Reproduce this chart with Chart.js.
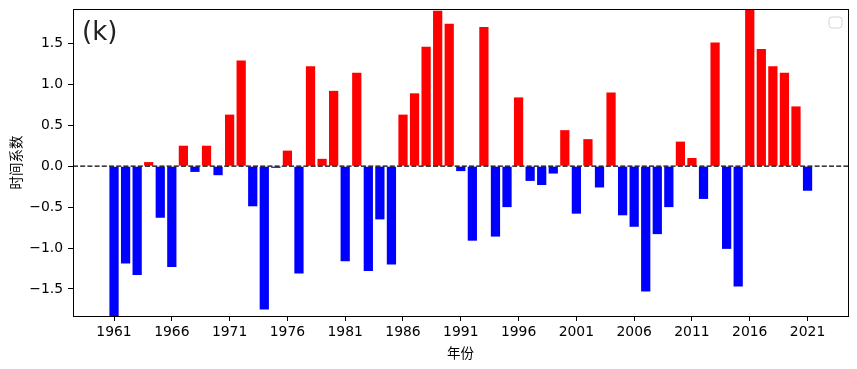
<!DOCTYPE html>
<html>
<head>
<meta charset="utf-8">
<script src="https://cdn.jsdelivr.net/npm/chart.js@4"></script>
<style>
  html, body { margin: 0; padding: 0; background: #fff; }
</style>
</head>
<body>
<canvas id="myBarChart" width="857" height="369"></canvas>
<script>
// data
const years = [
  1961, 1962, 1963, 1964, 1965, 1966, 1967, 1968, 1969, 1970,
  1971, 1972, 1973, 1974, 1975, 1976, 1977, 1978, 1979, 1980,
  1981, 1982, 1983, 1984, 1985, 1986, 1987, 1988, 1989, 1990,
  1991, 1992, 1993, 1994, 1995, 1996, 1997, 1998, 1999, 2000,
  2001, 2002, 2003, 2004, 2005, 2006, 2007, 2008, 2009, 2010,
  2011, 2012, 2013, 2014, 2015, 2016, 2017, 2018, 2019, 2020,
  2021
];
const values = [
  -1.95, -1.19, -1.33, 0.05, -0.63, -1.23, 0.25, -0.07, 0.25, -0.11,
  0.63, 1.29, -0.49, -1.75, -0.02, 0.19, -1.31, 1.22, 0.09, 0.92,
  -1.16, 1.14, -1.28, -0.65, -1.20, 0.63, 0.89, 1.46, 1.90, 1.74,
  -0.06, -0.91, 1.70, -0.86, -0.50, 0.84, -0.18, -0.23, -0.09, 0.44,
  -0.58, 0.33, -0.26, 0.90, -0.60, -0.74, -1.53, -0.83, -0.50, 0.30,
  0.10, -0.40, 1.51, -1.01, -1.47, 1.98, 1.43, 1.22, 1.14, 0.73,
  -0.30
];
const xTicks = [1961, 1966, 1971, 1976, 1981, 1986, 1991, 1996, 2001, 2006, 2011, 2016, 2021];
const yTicks = [-1.5, -1.0, -0.5, 0.0, 0.5, 1.0, 1.5];
const panelLabel = '(k)';
const xTitle = '年份';
const yTitle = '时间系数';

const points = years.map((yr, i) => ({ x: yr, y: values[i] }));
const colors = values.map(v => v >= 0 ? '#ff0000' : '#0000ff');

const extras = {
  id: 'extras',
  afterDatasetsDraw(chart) {
    const { ctx, chartArea: a, scales: { y } } = chart;
    const y0 = y.getPixelForValue(0);
    ctx.save();
    // dashed zero line
    ctx.strokeStyle = '#000';
    ctx.lineWidth = 1.3;
    ctx.setLineDash([5, 2.2]);
    ctx.beginPath();
    ctx.moveTo(a.left, y0);
    ctx.lineTo(a.right, y0);
    ctx.stroke();
    ctx.setLineDash([]);
    // frame
    ctx.lineWidth = 1;
    ctx.strokeRect(a.left + 0.5, a.top + 0.5, a.right - a.left, a.bottom - a.top);
    // panel label
    ctx.fillStyle = '#222';
    ctx.font = '26px "DejaVu Sans"';
    ctx.textBaseline = 'alphabetic';
    ctx.fillText(panelLabel, a.left + 9, a.top + 31);
    // empty legend box
    ctx.strokeStyle = '#d4d4d4';
    ctx.fillStyle = 'rgba(255,255,255,0.8)';
    ctx.beginPath();
    ctx.roundRect(a.right - 19, a.top + 8, 13, 11, 3);
    ctx.fill();
    ctx.stroke();
    ctx.restore();
  }
};

new Chart(document.getElementById('myBarChart').getContext('2d'), {
  type: 'bar',
  data: {
    datasets: [{
      data: points,
      backgroundColor: colors,
      borderWidth: 0,
      barPercentage: 0.8,
      categoryPercentage: 1.0,
      clip: 0
    }]
  },
  options: {
    responsive: false,
    animation: false,
    devicePixelRatio: 1,
    layout: { padding: { left: 0, right: 9, top: 9, bottom: 0 } },
    plugins: { legend: { display: false }, tooltip: { enabled: false } },
    scales: {
      x: {
        type: 'linear',
        min: 1957.45,
        max: 2024.5,
        offset: false,
        border: { display: false },
        grid: { offset: false, drawOnChartArea: false, drawTicks: true, tickLength: 5, color: '#000' },
        afterBuildTicks: s => { s.ticks = xTicks.map(v => ({ value: v })); },
        afterFit: s => { s.height = 53; s.paddingLeft = 0; s.paddingRight = 0; },
        ticks: {
          autoSkip: false,
          maxRotation: 0,
          padding: 3.5,
          color: '#000',
          font: { family: 'DejaVu Sans', size: 13.9 },
          callback: v => String(v)
        },
        title: {
          display: true,
          text: xTitle,
          color: '#000',
          font: { family: 'Noto Sans CJK SC', size: 13.5 },
          padding: { top: 0, bottom: 8 }
        }
      },
      y: {
        min: -1.83,
        max: 1.92,
        border: { display: false },
        grid: { drawOnChartArea: false, drawTicks: true, tickLength: 5, color: '#000' },
        afterBuildTicks: s => { s.ticks = yTicks.map(v => ({ value: v })); },
        afterFit: s => { s.width = 73; s.paddingTop = 0; s.paddingBottom = 0; },
        ticks: {
          padding: 5,
          color: '#000',
          font: { family: 'DejaVu Sans', size: 13.9 },
          callback: v => (v < 0 ? '\u2212' : '') + Math.abs(v).toFixed(1)
        },
        title: {
          display: true,
          text: yTitle,
          color: '#000',
          font: { family: 'Noto Sans CJK SC', size: 13.5 },
          padding: { top: 8, bottom: 0 }
        }
      }
    }
  },
  plugins: [extras]
});
</script>
</body>
</html>
